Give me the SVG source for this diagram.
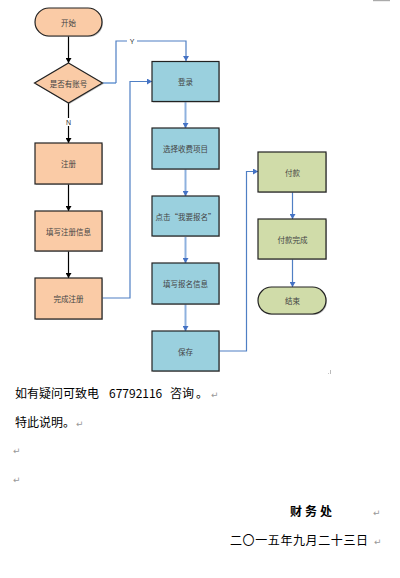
<svg xmlns="http://www.w3.org/2000/svg" width="400" height="578" viewBox="0 0 400 578">
<style>
.node{stroke:#222;stroke-width:1.2}
.sh{fill:#999;opacity:0.6}
.o{fill:#FACBA6}
.b{fill:#9AD0DE}
.g{fill:#D0DCA9}
.t{font-family:"Noto Sans CJK SC","Noto Sans",sans-serif;font-size:7.5px;fill:#444;text-anchor:middle;dominant-baseline:central}
.doc{font-family:"Noto Sans CJK SC","Noto Sans",sans-serif;font-size:12px;fill:#000}
.ret{font-family:"DejaVu Sans",sans-serif;font-size:9px;fill:#999}
.k{fill:none;stroke:#000;stroke-width:1.2}
.lb{fill:none;stroke:#8EB1DE;stroke-width:2}
.db{fill:none;stroke:#4F7FC4;stroke-width:1.2}
.lbl{font-family:"Liberation Sans",sans-serif;font-size:7px;fill:#333;text-anchor:middle;dominant-baseline:central}
</style>
<defs>
<marker id="ak" markerUnits="userSpaceOnUse" markerWidth="6" markerHeight="6" refX="5" refY="3" orient="auto"><path d="M0,0 L5,3 L0,6 Z" fill="#000"/></marker>
<marker id="ab" markerUnits="userSpaceOnUse" markerWidth="6" markerHeight="6" refX="5" refY="3" orient="auto"><path d="M0,0 L5,3 L0,6 Z" fill="#4472C4"/></marker>
</defs>
<rect x="373" y="0" width="17" height="1.2" fill="#aaa"/>
<g id="connectors">
<path class="k" d="M68.5,36 V63" marker-end="url(#ak)"/>
<path class="k" d="M68.5,103 V143" marker-end="url(#ak)"/>
<path class="k" d="M68.5,184 V211" marker-end="url(#ak)"/>
<path class="k" d="M68.5,251 V278" marker-end="url(#ak)"/>
<path class="lb" d="M102.5,83 H116"/>
<path class="db" d="M116,83 V41 H186 V61" marker-end="url(#ab)"/>
<rect x="127" y="37" width="10" height="8" fill="#fff"/>
<text class="lbl" x="132" y="41">Y</text>
<rect x="63" y="118" width="11" height="8" fill="#fff"/>
<text class="lbl" x="68.5" y="122">N</text>
<path class="db" d="M102.5,298 H130 V81.5 H152" marker-end="url(#ab)"/>
<path class="lb" d="M185.5,102 V128" marker-end="url(#ab)"/>
<path class="lb" d="M185.5,169 V196" marker-end="url(#ab)"/>
<path class="lb" d="M185.5,237 V263" marker-end="url(#ab)"/>
<path class="lb" d="M185.5,304 V331" marker-end="url(#ab)"/>
<path class="db" d="M219.5,351 H246.5 V171.5 H258" marker-end="url(#ab)"/>
<path class="db" d="M292.5,192 V219" marker-end="url(#ab)"/>
<path class="db" d="M292.5,259 V287" marker-end="url(#ab)"/>
</g>
<g id="start">
<rect class="sh" x="36" y="9" width="67" height="28" rx="14"/>
<rect class="node o" x="35" y="8" width="67" height="28" rx="14"/>
<text class="t" x="68.5" y="22">开始</text>
</g>
<g id="hasAccount">
<path class="sh" d="M69.5,64 L103.5,84 L69.5,104 L35.5,84 Z"/>
<path class="node o" d="M68.5,63 L102.5,83 L68.5,103 L34.5,83 Z"/>
<text class="t" x="68.5" y="83">是否有账号</text>
</g>
<g id="register">
<rect class="sh" x="36" y="144" width="67" height="41"/>
<rect class="node o" x="35" y="143" width="67" height="41"/>
<text class="t" x="68.5" y="163.5">注册</text>
</g>
<g id="fillRegInfo">
<rect class="sh" x="36" y="212" width="67" height="40"/>
<rect class="node o" x="35" y="211" width="67" height="40"/>
<text class="t" x="68.5" y="231">填写注册信息</text>
</g>
<g id="finishReg">
<rect class="sh" x="36" y="279" width="67" height="41"/>
<rect class="node o" x="35" y="278" width="67" height="41"/>
<text class="t" x="68.5" y="298.5">完成注册</text>
</g>
<g id="login">
<rect class="sh" x="153" y="62.5" width="67" height="40"/>
<rect class="node b" x="152" y="61.5" width="67" height="40"/>
<text class="t" x="185.5" y="81.5">登录</text>
</g>
<g id="chooseItem">
<rect class="sh" x="153" y="129" width="67" height="41"/>
<rect class="node b" x="152" y="128" width="67" height="41"/>
<text class="t" x="185.5" y="148.5">选择收费项目</text>
</g>
<g id="clickSignup">
<rect class="sh" x="153" y="197" width="67" height="40"/>
<rect class="node b" x="152" y="196" width="67" height="40"/>
<text class="t" x="185.5" y="216">点击“我要报名”</text>
</g>
<g id="fillSignupInfo">
<rect class="sh" x="153" y="264" width="67" height="41"/>
<rect class="node b" x="152" y="263" width="67" height="41"/>
<text class="t" x="185.5" y="283.5">填写报名信息</text>
</g>
<g id="save">
<rect class="sh" x="153" y="332" width="67" height="40"/>
<rect class="node b" x="152" y="331" width="67" height="40"/>
<text class="t" x="185.5" y="351">保存</text>
</g>
<g id="pay">
<rect class="sh" x="259" y="153" width="68" height="40"/>
<rect class="node g" x="258" y="152" width="68" height="40"/>
<text class="t" x="292.5" y="172">付款</text>
</g>
<g id="payDone">
<rect class="sh" x="259" y="220" width="68" height="40"/>
<rect class="node g" x="258" y="219" width="68" height="40"/>
<text class="t" x="292.5" y="239">付款完成</text>
</g>
<g id="end">
<rect class="sh" x="259" y="288" width="68" height="27" rx="13.5"/>
<rect class="node g" x="258" y="287" width="68" height="27" rx="13.5"/>
<text class="t" x="292.5" y="300.5">结束</text>
</g>
<rect x="328" y="373" width="0.8" height="0.8" fill="#aaa"/>
<rect x="330" y="370" width="0.8" height="4" fill="#aaa"/>
<text class="doc" x="15" y="398">如有疑问可致电</text>
<text class="doc" x="109" y="398" font-family="Liberation Sans,sans-serif">67792116</text>
<text class="doc" x="170" y="398">咨询</text>
<text class="doc" x="196" y="398">。</text>
<text class="ret" x="211" y="398">↵</text>
<text class="doc" x="15" y="427">特此说明。</text>
<text class="ret" x="76" y="427">↵</text>
<text class="ret" x="13" y="454">↵</text>
<text class="ret" x="13" y="483">↵</text>
<text class="doc" x="290" y="516" font-size="10" font-weight="bold" letter-spacing="3">财务处</text>
<text class="ret" x="373" y="516">↵</text>
<text class="doc" x="230" y="545" letter-spacing="0.6">二〇一五年九月二十三日</text>
<text class="ret" x="374" y="545">↵</text>
</svg>
